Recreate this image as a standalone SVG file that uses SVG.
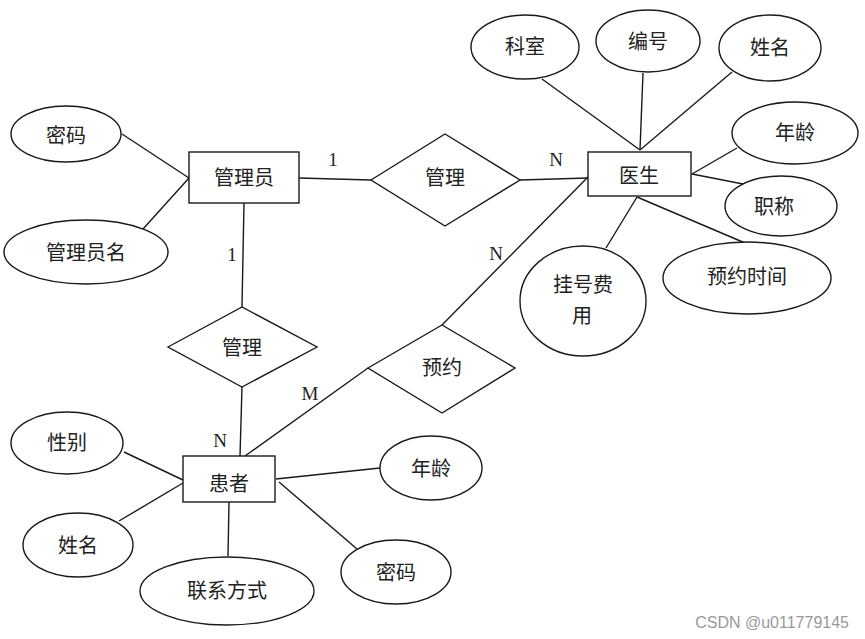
<svg xmlns="http://www.w3.org/2000/svg" width="865" height="639" viewBox="0 0 865 639">
<style>
.s{fill:#fff;stroke:#1a1a1a;stroke-width:1.4}
.l{stroke:#1a1a1a;stroke-width:1.4;fill:none}
.t{font-family:"Noto Sans CJK SC","Noto Sans",sans-serif;font-size:20px;fill:#222;text-anchor:middle;dominant-baseline:central}
.c{font-family:"Liberation Serif","DejaVu Serif",serif;font-size:19px;fill:#222;text-anchor:middle;dominant-baseline:central}
</style>
<rect width="865" height="639" fill="#fff"/>
<g id="connectors">
<line class="l" x1="122" y1="134" x2="189" y2="178"/>
<line class="l" x1="143" y1="229" x2="189" y2="178"/>
<line class="l" x1="299" y1="178" x2="371" y2="180"/>
<line class="l" x1="244" y1="203" x2="242" y2="307"/>
<line class="l" x1="520" y1="180" x2="588" y2="178"/>
<line class="l" x1="588" y1="177" x2="442" y2="325"/>
<line class="l" x1="640" y1="150" x2="542" y2="79"/>
<line class="l" x1="640" y1="150" x2="643" y2="73"/>
<line class="l" x1="640" y1="150" x2="732" y2="72"/>
<line class="l" x1="692" y1="174" x2="737" y2="148"/>
<line class="l" x1="692" y1="174" x2="743" y2="184"/>
<line class="l" x1="637" y1="197" x2="606" y2="248"/>
<line class="l" x1="637" y1="197" x2="745" y2="243"/>
<line class="l" x1="242" y1="387" x2="240" y2="456"/>
<line class="l" x1="368" y1="368" x2="245" y2="456"/>
<line class="l" x1="124" y1="452" x2="183" y2="480"/>
<line class="l" x1="119" y1="521" x2="183" y2="483"/>
<line class="l" x1="229" y1="502" x2="228" y2="556"/>
<line class="l" x1="276" y1="479" x2="380" y2="468"/>
<line class="l" x1="279" y1="482" x2="357" y2="549"/>
<text class="c" x="333" y="159">1</text>
<text class="c" x="232" y="254">1</text>
<text class="c" x="556" y="159">N</text>
<text class="c" x="496" y="253">N</text>
<text class="c" x="220" y="440">N</text>
<text class="c" x="310" y="393">M</text>
</g>
<g id="admin"><rect class="s" x="189" y="152" width="110" height="51"/><text class="t" x="244" y="176">管理员</text></g>
<g id="admin-pwd"><ellipse class="s" cx="66" cy="134" rx="55" ry="28"/><text class="t" x="66" y="134">密码</text></g>
<g id="admin-name"><ellipse class="s" cx="86" cy="252" rx="82" ry="32"/><text class="t" x="86" y="251">管理员名</text></g>
<g id="manage1"><polygon class="s" points="371,180 445,134 520,180 445,226"/><text class="t" x="445" y="176">管理</text></g>
<g id="doctor"><rect class="s" x="588" y="152" width="103" height="44"/><text class="t" x="639" y="174">医生</text></g>
<g id="doc-dept"><ellipse class="s" cx="525" cy="47" rx="54" ry="32"/><text class="t" x="525" y="45">科室</text></g>
<g id="doc-id"><ellipse class="s" cx="648" cy="41" rx="52" ry="31"/><text class="t" x="648" y="40">编号</text></g>
<g id="doc-name"><ellipse class="s" cx="770" cy="48" rx="51" ry="33"/><text class="t" x="770" y="46">姓名</text></g>
<g id="doc-age"><ellipse class="s" cx="795" cy="133" rx="63" ry="31"/><text class="t" x="795" y="131">年龄</text></g>
<g id="doc-title"><ellipse class="s" cx="781" cy="206" rx="56" ry="30"/><text class="t" x="774" y="205">职称</text></g>
<g id="doc-time"><ellipse class="s" cx="747" cy="278" rx="84" ry="36"/><text class="t" x="747" y="275">预约时间</text></g>
<g id="doc-fee"><ellipse class="s" cx="583" cy="301" rx="63" ry="55"/><text class="t" x="583" y="283">挂号费</text><text class="t" x="582" y="314">用</text></g>
<g id="manage2"><polygon class="s" points="168,347 242,307 317,347 242,387"/><text class="t" x="242" y="346">管理</text></g>
<g id="reserve"><polygon class="s" points="368,368 442,325 515,368 442,413"/><text class="t" x="442" y="366">预约</text></g>
<g id="patient"><rect class="s" x="183" y="456" width="92" height="46"/><text class="t" x="229" y="482">患者</text></g>
<g id="pat-sex"><ellipse class="s" cx="67" cy="443" rx="56" ry="31"/><text class="t" x="67" y="441">性别</text></g>
<g id="pat-name"><ellipse class="s" cx="78" cy="545" rx="55" ry="32"/><text class="t" x="78" y="544">姓名</text></g>
<g id="pat-contact"><ellipse class="s" cx="227" cy="591" rx="87" ry="34"/><text class="t" x="227" y="589">联系方式</text></g>
<g id="pat-pwd"><ellipse class="s" cx="396" cy="572" rx="55" ry="32"/><text class="t" x="396" y="571">密码</text></g>
<g id="pat-age"><ellipse class="s" cx="431" cy="468" rx="51" ry="32"/><text class="t" x="431" y="467">年龄</text></g>
<text x="849" y="628" font-family="Liberation Sans, Arial, sans-serif" font-size="16" fill="#999" text-anchor="end">CSDN @u011779145</text>
</svg>
